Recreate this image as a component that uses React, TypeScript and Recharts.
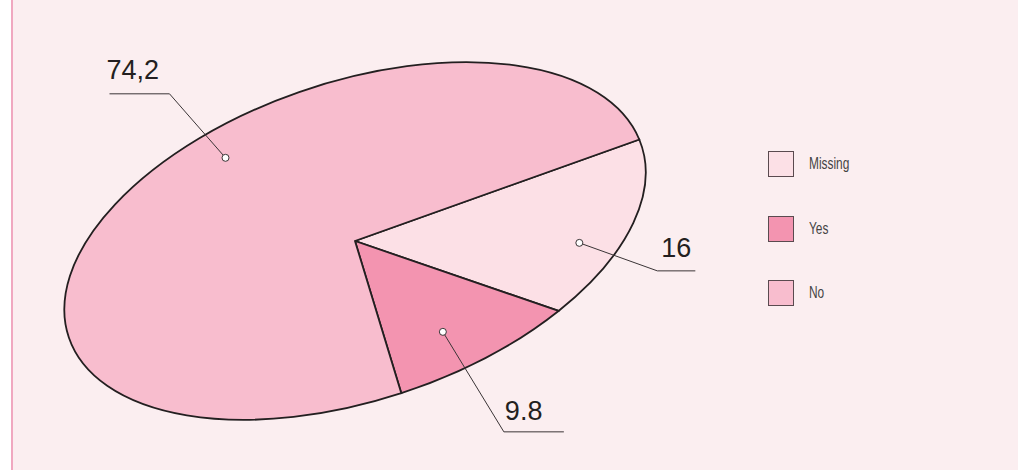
import React from 'react';
import { PieChart, Pie, Cell, Legend } from 'recharts';

const categories = ['Missing', 'Yes', 'No'];
const shares = [16, 9.8, 74.2];
const valueLabels = ['16', '9.8', '74,2'];
const fills = ['#fce0e6', '#f394b0', '#f8bdce'];

const data = categories.map((name, i) => ({ name, value: shares[i] }));

// the pie is drawn as a circle and then squashed + tilted into an ellipse
const CX = 355;
const CY = 241;
const RADIUS = 302;
const SQUASH = 0.5265;
const TILT = -18.6;

// where each value label's dot sits in its slice and how its leader runs
const labelSpots = [
  { turn: -6.5, depth: 0.84, elbow: [78, 28], run: 38, textDx: 4, textDy: -14 },
  { turn: -2.7, depth: 0.74, elbow: [61, 100], run: 60, textDx: 1, textDy: -12 },
  { turn: -22.7, depth: 0.82, elbow: [-56, -64], run: -60, textDx: -63, textDy: -15 },
];

const renderValueLabel = (props: any) => {
  const { cx, cy, midAngle, outerRadius, index } = props;
  const spot = labelSpots[index];
  const a = ((midAngle + spot.turn) * Math.PI) / 180;
  const r = outerRadius * spot.depth;
  const px = r * Math.cos(a);
  const py = -r * Math.sin(a) * SQUASH;
  const t = (TILT * Math.PI) / 180;
  const x = cx + px * Math.cos(t) - py * Math.sin(t);
  const y = cy + px * Math.sin(t) + py * Math.cos(t);
  const ex = x + spot.elbow[0];
  const ey = y + spot.elbow[1];
  const hx = ex + spot.run;
  return (
    <g key={`label-${index}`}>
      <polyline
        points={`${x},${y} ${ex},${ey} ${hx},${ey}`}
        fill="none"
        stroke="#3a3436"
        strokeWidth={1}
      />
      <circle cx={x} cy={y} r={3.5} fill="#ffffff" stroke="#3a3436" strokeWidth={1} />
      <text
        x={ex + spot.textDx}
        y={ey + spot.textDy}
        fill="#231f20"
        fontSize={27}
        fontFamily="'Liberation Sans', Arial, sans-serif"
      >
        {valueLabels[index]}
      </text>
    </g>
  );
};

const LegendBoxes = ({ payload }: any) => {
  const items = [...(payload || [])].sort(
    (a: any, b: any) => categories.indexOf(a.value) - categories.indexOf(b.value)
  );
  return (
    <div>
      {items.map((entry: any, i: number) => (
        <div
          key={entry.value}
          style={{ display: 'flex', alignItems: 'center', height: 26, marginBottom: i < 2 ? 38.5 : 0 }}
        >
          <span
            style={{
              display: 'inline-block',
              boxSizing: 'border-box',
              width: 26,
              height: 26,
              border: '1.5px solid #5a4a4f',
              background: fills[categories.indexOf(entry.value)] ?? entry.color,
            }}
          />
          <span
            style={{
              display: 'inline-block',
              marginLeft: 15,
              fontFamily: "'Liberation Sans', sans-serif",
              fontSize: 17,
              color: '#454545',
              transform: 'scaleX(0.7)',
              transformOrigin: 'left center',
            }}
          >
            {entry.value}
          </span>
        </div>
      ))}
    </div>
  );
};

const App: React.FC = () => (
  <div style={{ position: 'relative', width: 1018, height: 470, background: '#ffffff', overflow: 'hidden' }}>
    <style>{`
      body { margin: 0; }
      .ellipse-pie .recharts-sector {
        transform-origin: ${CX}px ${CY}px;
        transform: rotate(${TILT}deg) scale(1, ${SQUASH});
        vector-effect: non-scaling-stroke;
      }
    `}</style>
    <div
      style={{
        position: 'absolute',
        left: 11,
        top: 0,
        width: 1007,
        height: 470,
        background: '#fbeef0',
        borderLeft: '2px solid #f0a8c0',
        boxSizing: 'border-box',
      }}
    />
    <div className="ellipse-pie" style={{ position: 'absolute', left: 0, top: 0 }}>
      <PieChart width={1018} height={470} margin={{ top: 0, right: 0, bottom: 0, left: 0 }}>
        <Pie
          data={data}
          dataKey="value"
          nameKey="name"
          cx={CX}
          cy={CY}
          outerRadius={RADIUS}
          startAngle={2}
          endAngle={-358}
          stroke="#231f20"
          strokeWidth={1.8}
          label={renderValueLabel}
          labelLine={false}
          isAnimationActive={false}
        >
          {data.map((d, i) => (
            <Cell key={d.name} fill={fills[i]} />
          ))}
        </Pie>
        <Legend
          layout="vertical"
          align="right"
          verticalAlign="middle"
          content={<LegendBoxes />}
          wrapperStyle={{ position: 'absolute', left: 768, top: 151, width: 150 }}
        />
      </PieChart>
    </div>
  </div>
);

export default App;
